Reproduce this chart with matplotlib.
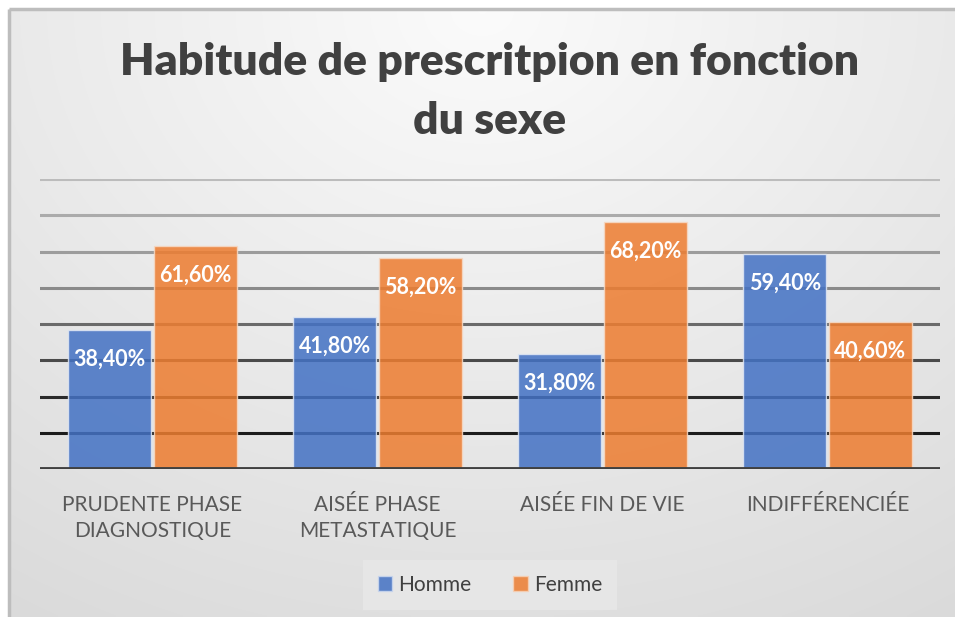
import numpy as np
import matplotlib
matplotlib.use("Agg")
import matplotlib.pyplot as plt
from matplotlib.patches import Patch

# data (percent)
categories = ["PRUDENTE PHASE\nDIAGNOSTIQUE", "AISÉE PHASE\nMETASTATIQUE",
              "AISÉE FIN DE VIE", "INDIFFÉRENCIÉE"]
homme = [38.4, 41.8, 31.8, 59.4]
femme = [61.6, 58.2, 68.2, 40.6]
series_names = ["Homme", "Femme"]
yticks = [10, 20, 30, 40, 50, 60, 70, 80]

W, H = 955, 617
fig = plt.figure(figsize=(W / 100, H / 100), dpi=100)
fig.patch.set_facecolor("white")

# background gradient panel with thin gray border on left / top
bg = fig.add_axes([0, 0, 1, 1])
bg.set_xlim(0, W)
bg.set_ylim(H, 0)
bg.axis("off")
xx, yy = np.meshgrid(np.linspace(0, 1, 300), np.linspace(0, 1, 200))
r = np.sqrt(((xx - 0.5) / 0.8) ** 2 + yy ** 2)
val = np.clip(0.985 - 0.11 * r, 0, 1)
bg.imshow(np.dstack([val, val, val]), extent=[9, W, H, 9], aspect="auto",
          interpolation="bilinear", zorder=0)
bg.plot([9, 9], [H, 9], color="#bdbdbd", lw=2.5, zorder=1, solid_capstyle="butt")
bg.plot([9, W], [9, 9], color="#bdbdbd", lw=2.5, zorder=1, solid_capstyle="butt")

font = "Lato"
fig.text(490 / W, 1 - 62 / H, "Habitude de prescritpion en fonction", ha="center",
         va="center", fontsize=32, fontweight="heavy", color="#404040", family=font)
fig.text(490 / W, 1 - 121 / H, "du sexe", ha="center", va="center", fontsize=32,
         fontweight="heavy", color="#404040", family=font)

ax = fig.add_axes([40 / W, 148 / H, 900 / W, 290 / H])
ax.patch.set_alpha(0)
x = np.arange(len(categories))
bw = 0.37
ax.set_xlim(-0.5, len(categories) - 0.5)
ax.set_ylim(0, 80)

grid_colors = ["#1c1c1c", "#2a2a2a", "#4a4a4a", "#6a6a6a", "#8a8a8a",
               "#9c9c9c", "#ababab", "#bcbcbc"]
for yv, c in zip(yticks, grid_colors):
    ax.axhline(yv, color=c, lw=2.2, zorder=1)
ax.axhline(0, color="#404040", lw=3.5, zorder=4)

b1 = ax.bar(x - bw / 2 - 0.005, homme, bw, color="#4472C4", alpha=0.86,
            edgecolor="#dfe6f3", linewidth=1, zorder=2)
b2 = ax.bar(x + bw / 2 + 0.005, femme, bw, color="#ED7D31", alpha=0.86,
            edgecolor="#f6d9c4", linewidth=1, zorder=2)

for bars, vals in ((b1, homme), (b2, femme)):
    for rect, v in zip(bars, vals):
        ax.annotate(f"{v:.2f}%".replace(".", ","),
                    (rect.get_x() + rect.get_width() / 2, rect.get_height()),
                    xytext=(0, -21), textcoords="offset points", ha="center",
                    va="center", color="white", fontsize=15.5, fontweight="bold",
                    family=font, zorder=5)

ax.set_yticks([])
ax.set_xticks(x)
ax.set_xticklabels(categories, fontsize=15, color="#595959", family=font,
                   linespacing=1.35, va="top")
ax.tick_params(axis="x", length=0, pad=19)
for s in ax.spines.values():
    s.set_visible(False)

handles = [Patch(facecolor="#4472C4", edgecolor="#c9d6ee", alpha=0.86),
           Patch(facecolor="#ED7D31", edgecolor="#f6d0b5", alpha=0.86)]
leg = fig.legend(handles, series_names, loc="center", bbox_to_anchor=(490 / W, 1 - 585 / H),
                 ncol=2, frameon=True, fancybox=False, handlelength=0.7,
                 handleheight=0.7, handletextpad=0.3, columnspacing=2.0,
                 borderpad=0.7, prop={"family": font, "size": 15})
leg.get_frame().set_facecolor("#e8e8e8")
leg.get_frame().set_edgecolor("none")
for t in leg.get_texts():
    t.set_color("#404040")

fig.savefig("out.png", dpi=100)
